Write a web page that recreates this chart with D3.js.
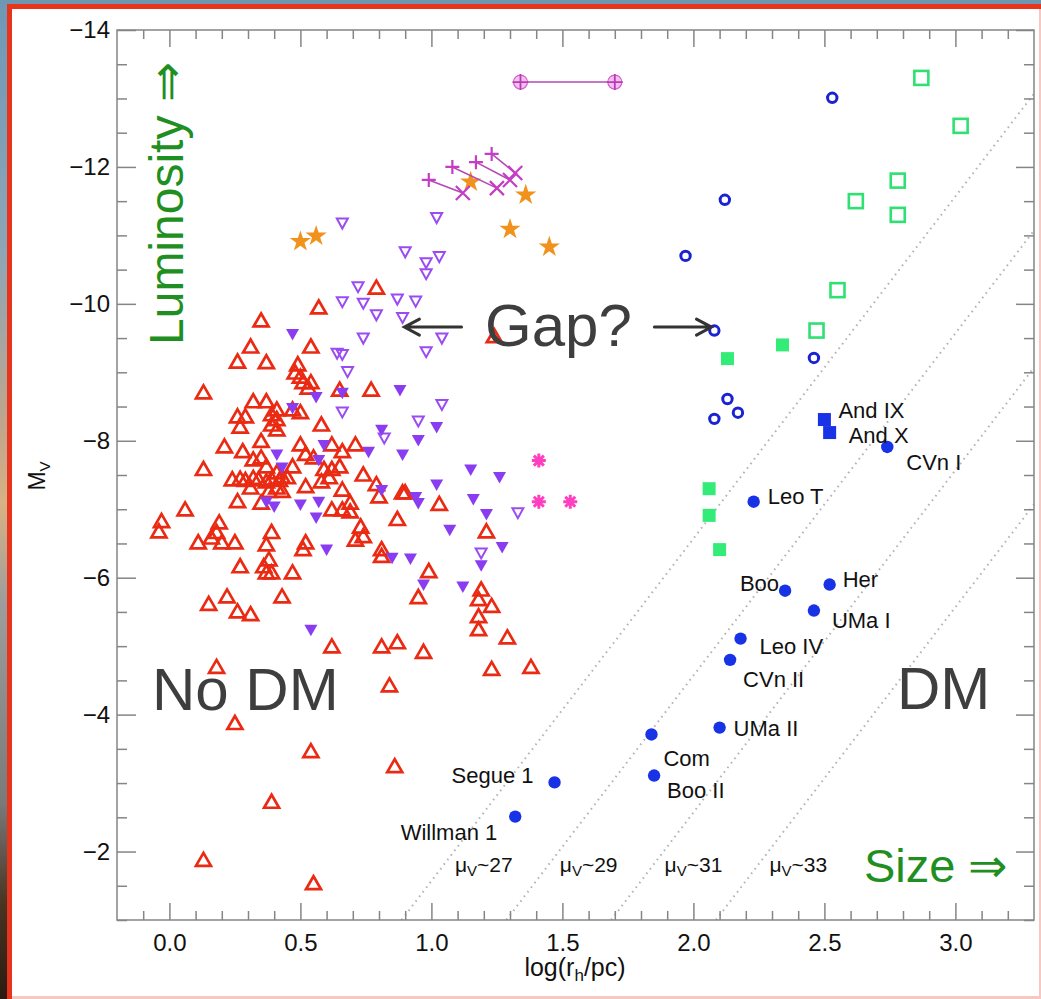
<!doctype html>
<html>
<head>
<meta charset="utf-8">
<title>Size versus luminosity: star clusters and dwarf galaxies</title>
<script src="https://d3js.org/d3.v7.min.js"></script>
<style>
  html, body { margin: 0; padding: 0; background: #6f97b2; overflow: hidden; }
  svg { display: block; }
  text { font-family: "Liberation Sans", Arial, Helvetica, sans-serif; }
</style>
</head>
<body>
<div id="vis-canvas"></div>
<script>
// ---- data: [log(r_h/pc), M_V] ----
var redTriangles = [
  [0.31,-9.37],[0.54,-9.37],[0.35,-9.75],[0.57,-9.94],[0.26,-9.15],[0.37,-9.14],[0.49,-9.11],[0.48,-8.99],
  [0.50,-8.93],[0.51,-8.85],[0.54,-8.85],[0.53,-8.77],[0.13,-8.70],[0.32,-8.57],[0.37,-8.57],[0.41,-8.45],
  [0.26,-8.35],[0.29,-8.35],[0.39,-8.38],[0.41,-8.31],[0.39,-8.23],[0.27,-8.20],[0.41,-8.16],[0.47,-8.45],
  [0.50,-8.41],[0.58,-8.23],[0.65,-8.74],[0.21,-7.91],[0.35,-7.99],[0.28,-7.84],[0.50,-7.94],[0.52,-7.80],
  [0.55,-7.75],[0.62,-7.94],[0.66,-7.84],[0.13,-7.58],[0.32,-7.72],[0.35,-7.75],[0.37,-7.62],[0.41,-7.53],
  [0.43,-7.47],[0.47,-7.62],[0.59,-7.58],[0.62,-7.58],[0.65,-7.62],
  [0.24,-7.43],[0.27,-7.44],[0.29,-7.42],[0.32,-7.45],[0.34,-7.43],[0.37,-7.40],[0.39,-7.44],[0.42,-7.42],[0.45,-7.46],
  [0.31,-7.31],[0.38,-7.26],[0.41,-7.31],[0.43,-7.26],[0.52,-7.33],[0.58,-7.40],[0.61,-7.46],[0.66,-7.28],
  [0.26,-7.11],[0.35,-7.09],[0.62,-6.99],[0.66,-6.99],[0.06,-6.99],[-0.03,-6.82],[-0.04,-6.67],[0.19,-6.80],
  [0.18,-6.66],[0.11,-6.51],[0.16,-6.58],[0.20,-6.51],[0.25,-6.51],[0.39,-6.66],[0.37,-6.48],[0.52,-6.51],
  [0.51,-6.41],[0.38,-6.26],[0.36,-6.16],[0.37,-6.07],[0.39,-6.07],[0.27,-6.16],[0.47,-6.07],[0.22,-5.72],
  [0.15,-5.61],[0.26,-5.50],[0.31,-5.46],[0.43,-5.72],[0.62,-4.99],[0.18,-4.69],[0.25,-3.87],[0.54,-3.46],
  [0.39,-2.72],[0.13,-1.87],[0.55,-1.53],
  [0.77,-8.74],[0.71,-7.94],[0.74,-7.50],[0.79,-7.36],[0.80,-7.18],[0.89,-7.24],[0.90,-7.24],[0.69,-7.09],
  [0.69,-6.96],[1.03,-7.07],[0.87,-6.85],[0.73,-6.74],[0.74,-6.60],[0.71,-6.55],[0.81,-6.41],[0.81,-6.31],
  [1.21,-6.67],[0.99,-6.09],[0.95,-5.71],[1.19,-5.82],[1.18,-5.68],[1.23,-5.58],[1.18,-5.43],[1.18,-5.24],
  [1.29,-5.12],[0.81,-4.99],[0.87,-5.05],[0.97,-4.91],[1.23,-4.66],[1.38,-4.69],[0.84,-4.42],[0.86,-3.24],
  [0.79,-10.23],[1.24,-9.52]
];
var purpleFilled = [
  [0.47,-9.56],[0.56,-8.64],[0.47,-8.48],[0.59,-7.94],[0.57,-7.72],[0.41,-7.80],[0.43,-7.61],[0.37,-7.11],
  [0.40,-7.04],[0.50,-7.07],[0.57,-7.11],[0.56,-6.88],[0.60,-6.41],[0.54,-5.24],[0.88,-8.74],[0.76,-7.84],
  [0.89,-7.80],[0.95,-8.01],[1.02,-8.20],[0.81,-8.16],[0.81,-7.28],[0.94,-7.18],[0.95,-7.09],[1.02,-7.36],
  [1.15,-7.58],[1.26,-7.47],[1.16,-7.15],[1.21,-6.93],[1.07,-6.70],[1.27,-6.45],[1.19,-6.18],[0.85,-6.29],
  [0.92,-6.28],[0.97,-5.90],[1.12,-5.87],[0.66,-8.70]
];
var purpleOpen = [
  [0.66,-11.18],[0.66,-10.03],[0.64,-9.28],[0.66,-9.26],[0.66,-8.42],[0.74,-9.50],[1.04,-9.50],[0.98,-9.30],
  [1.04,-8.53],[0.95,-8.29],[0.82,-8.04],[1.33,-6.95],[1.19,-6.36],[1.02,-11.26],[0.90,-10.76],[1.03,-10.69],
  [0.98,-10.60],[0.98,-10.44],[0.72,-10.25],[0.74,-10.01],[0.87,-10.07],[0.94,-10.04],[0.79,-9.84],[0.89,-9.80],
  [0.68,-9.01]
];
var orangeStars = [[0.50,-10.91],[0.56,-10.99],[1.15,-11.78],[1.36,-11.59],[1.30,-11.09],[1.45,-10.83]];
var plusStart = [[0.99,-11.81],[1.08,-12.00],[1.17,-12.07],[1.23,-12.19]];
var crossEnd  = [[1.12,-11.62],[1.25,-11.69],[1.30,-11.81],[1.32,-11.91]];
var omegaPair = [[1.34,-13.24],[1.70,-13.24]];
var pinkAsterisks = [[1.41,-7.71],[1.41,-7.11],[1.53,-7.11]];
var blueOpen = [[2.53,-13.01],[2.12,-11.52],[1.97,-10.70],[2.08,-9.61],[2.46,-9.21],[2.13,-8.61],[2.17,-8.41],[2.08,-8.32]];
var greenOpen = [[2.87,-13.30],[3.02,-12.60],[2.78,-11.80],[2.62,-11.50],[2.78,-11.30],[2.55,-10.20],[2.47,-9.61]];
var greenFilled = [[2.34,-9.40],[2.13,-9.20],[2.06,-7.30],[2.06,-6.91],[2.10,-6.41]];
var andNames = ["And IX", "And X"];
var andPoints = [[2.50,-8.31],[2.52,-8.12]];
var ufdNames = ["Willman 1","Segue 1","Com","Boo II","UMa II","CVn II","Leo IV","UMa I","Boo","Her","Leo T","CVn I"];
var ufdPoints = [[1.32,-2.51],[1.47,-3.01],[1.84,-3.71],[1.85,-3.11],[2.10,-3.81],[2.14,-4.80],
                 [2.18,-5.11],[2.46,-5.52],[2.35,-5.81],[2.52,-5.90],[2.23,-7.11],[2.74,-7.91]];
var muLevels = [27, 29, 31, 33];
var muLabelX = [1.09, 1.49, 1.89, 2.29];
var xMajor = [0, 0.5, 1.0, 1.5, 2.0, 2.5, 3.0];
var yMajor = [-14, -12, -10, -8, -6, -4, -2];

// label placement (pixel offsets from each point: dx, dy, anchor)
var ufdLabelPos = {
  "Willman 1": [-18, 15, "end"], "Segue 1": [-21, -7, "end"], "Com": [12, 24, "start"],
  "Boo II": [13, 14, "start"], "UMa II": [14, 0, "start"], "CVn II": [13, 19, "start"],
  "Leo IV": [19, 7, "start"], "UMa I": [18, 9, "start"], "Boo": [-6, -8, "end"],
  "Her": [13, -6, "start"], "Leo T": [14, -6, "start"], "CVn I": [19, 15, "start"]
};
var andLabelPos = { "And IX": [14, -10], "And X": [19, 2] };

var W = 1041, H = 999;
var svg = d3.select("#vis-canvas").append("svg").attr("width", W).attr("height", H);

// slide background / frame
var defs = svg.append("defs");
var grad = defs.append("linearGradient").attr("id", "photo").attr("x1", 0).attr("y1", 0).attr("x2", 0).attr("y2", 1);
[[0,"#6f98b6"],[0.25,"#8ea6b6"],[0.42,"#bfa58c"],[0.5,"#d9b184"],[0.6,"#9d9d9d"],[0.8,"#7a7a7a"],[0.9,"#4a3422"],[1,"#2a1a10"]]
  .forEach(function(s) { grad.append("stop").attr("offset", s[0]).attr("stop-color", s[1]); });
svg.append("rect").attr("width", W).attr("height", H).attr("fill", "#6f97b2");
svg.append("rect").attr("x", 0).attr("y", 4).attr("width", 8).attr("height", H).attr("fill", "url(#photo)");
svg.append("rect").attr("x", 7).attr("y", 4).attr("width", W - 7).attr("height", H - 4).attr("fill", "#e8341c");
svg.append("rect").attr("x", 12).attr("y", 9).attr("width", W - 12).attr("height", H - 9).attr("fill", "#f6c8c2");
svg.append("rect").attr("x", 12).attr("y", 9).attr("width", W - 14).attr("height", H - 12).attr("fill", "#ffffff");

// scales
var x = d3.scaleLinear().domain([-0.2, 3.3]).range([117, 1034]);
var y = d3.scaleLinear().domain([-14, -1]).range([30, 920]);

var xMinor = d3.range(-1, 33).map(function(i) { return i / 10; }).filter(function(v) { return Math.round(v * 10) % 5 !== 0; });
var yMinor = d3.range(-27, -1).map(function(i) { return i / 2; }).filter(function(v) { return v % 2 !== 0; });

var axisColor = "#858585";
function styleAxis(g) {
  g.select(".domain").remove();
  g.selectAll(".tick line").attr("stroke", axisColor).attr("stroke-width", 1.5);
  g.attr("font-size", 24).attr("font-family", "'Liberation Sans', Arial, Helvetica, sans-serif");
  g.selectAll(".tick text").attr("fill", "#111");
}

// surface brightness lines: M_V = mu - 23.57 - 5 log r
var lineGen = d3.line().x(function(d) { return x(d[0]); }).y(function(d) { return y(d[1]); });
muLevels.forEach(function(mu) {
  var c = mu - 23.57;
  var p0 = [(c + 1) / 5, -1];
  var p1 = [3.3, c - 5 * 3.3];
  if (p1[1] < -14) p1 = [(c + 14) / 5, -14];
  svg.append("path").attr("d", lineGen([p0, p1]))
    .attr("fill", "none").attr("stroke", "#b4b4b4").attr("stroke-width", 2)
    .attr("stroke-dasharray", "1.6,4.2");
});

// axes
svg.append("g").attr("transform", "translate(0,920)")
  .call(d3.axisBottom(x).tickValues(xMajor).tickSize(-17).tickPadding(14).tickFormat(d3.format(".1f"))).call(styleAxis);
svg.append("g").attr("transform", "translate(0,920)")
  .call(d3.axisBottom(x).tickValues(xMinor).tickSize(-9).tickFormat("")).call(styleAxis);
svg.append("g").attr("transform", "translate(0,30)")
  .call(d3.axisTop(x).tickValues(xMajor).tickSize(-17).tickFormat("")).call(styleAxis);
svg.append("g").attr("transform", "translate(0,30)")
  .call(d3.axisTop(x).tickValues(xMinor).tickSize(-9).tickFormat("")).call(styleAxis);
svg.append("g").attr("transform", "translate(117,0)")
  .call(d3.axisLeft(y).tickValues(yMajor).tickSize(-19).tickPadding(7).tickFormat(d3.format("d"))).call(styleAxis);
svg.append("g").attr("transform", "translate(117,0)")
  .call(d3.axisLeft(y).tickValues(yMinor).tickSize(-10).tickFormat("")).call(styleAxis);
svg.append("g").attr("transform", "translate(1034,0)")
  .call(d3.axisRight(y).tickValues(yMajor).tickSize(-18).tickFormat("")).call(styleAxis);
svg.append("g").attr("transform", "translate(1034,0)")
  .call(d3.axisRight(y).tickValues(yMinor).tickSize(-10).tickFormat("")).call(styleAxis);
svg.append("rect").attr("x", 117).attr("y", 30).attr("width", 917).attr("height", 890)
  .attr("fill", "none").attr("stroke", axisColor).attr("stroke-width", 1.5);

// axis titles
var xt = svg.append("text").attr("x", 575).attr("y", 976).attr("text-anchor", "middle").attr("font-size", 25).attr("fill", "#111");
xt.append("tspan").text("log(r");
xt.append("tspan").attr("font-size", 17).attr("dy", 5).text("h");
xt.append("tspan").attr("dy", -5).text("/pc)");
var yt = svg.append("text").attr("transform", "translate(45,476) rotate(-90)").attr("text-anchor", "middle").attr("font-size", 23).attr("fill", "#111");
yt.append("tspan").text("M");
yt.append("tspan").attr("font-size", 15).attr("dy", 5).text("V");

// markers
var plot = svg.append("g");
function px(d) { return x(d[0]); }
function py(d) { return y(d[1]); }
function tr(d) { return "translate(" + px(d) + "," + py(d) + ")"; }

plot.selectAll(".gc").data(redTriangles).enter().append("path")
  .attr("transform", tr).attr("d", "M0,-7.5L7.5,5.5L-7.5,5.5Z")
  .attr("fill", "none").attr("stroke", "#ea2a12").attr("stroke-width", 2.7).attr("stroke-linejoin", "miter");

plot.selectAll(".po").data(purpleOpen).enter().append("path")
  .attr("transform", tr).attr("d", "M-5.5,-4.5L5.5,-4.5L0,5.5Z")
  .attr("fill", "none").attr("stroke", "#9a4cf2").attr("stroke-width", 2);

plot.selectAll(".pf").data(purpleFilled).enter().append("path")
  .attr("transform", tr).attr("d", "M-6.5,-5L6.5,-5L0,6.5Z")
  .attr("fill", "#8a3cf0");

plot.selectAll(".star").data(orangeStars).enter().append("path")
  .attr("transform", tr).attr("d", d3.symbol(d3.symbolStar, 140))
  .attr("fill", "#f0921c");

// plus -> cross tracks
plot.selectAll(".track").data(plusStart).enter().append("line")
  .attr("x1", px).attr("y1", py)
  .attr("x2", function(d, i) { return x(crossEnd[i][0]); })
  .attr("y2", function(d, i) { return y(crossEnd[i][1]); })
  .attr("stroke", "#b548b5").attr("stroke-width", 1.6);
plot.selectAll(".plus").data(plusStart).enter().append("path")
  .attr("transform", tr).attr("d", "M-7,0H7M0,-7V7")
  .attr("stroke", "#c53cc5").attr("stroke-width", 2.2);
plot.selectAll(".cross").data(crossEnd).enter().append("path")
  .attr("transform", tr).attr("d", "M-7,-7L7,7M-7,7L7,-7")
  .attr("stroke", "#c53cc5").attr("stroke-width", 2.2);

// omega-type pair
plot.append("path").attr("d", lineGen(omegaPair)).attr("stroke", "#b548b5").attr("stroke-width", 1.6).attr("fill", "none");
var om = plot.selectAll(".om").data(omegaPair).enter().append("g").attr("transform", tr);
om.append("circle").attr("r", 7).attr("fill", "#f6c0ee").attr("stroke", "#d060d0").attr("stroke-width", 1.2);
om.append("path").attr("d", "M-8,0H8M0,-8V8").attr("stroke", "#b53cb5").attr("stroke-width", 1.8);

// asterisks
plot.selectAll(".ast").data(pinkAsterisks).enter().append("path")
  .attr("transform", tr).attr("d", "M-7,0H7M0,-7V7M-5,-5L5,5M-5,5L5,-5")
  .attr("stroke", "#ff3fbf").attr("stroke-width", 3);

// dwarf galaxies
plot.selectAll(".bo").data(blueOpen).enter().append("circle")
  .attr("cx", px).attr("cy", py).attr("r", 4.7)
  .attr("fill", "none").attr("stroke", "#1a22d2").attr("stroke-width", 3);
plot.selectAll(".go").data(greenOpen).enter().append("rect")
  .attr("x", function(d) { return px(d) - 7; }).attr("y", function(d) { return py(d) - 7; })
  .attr("width", 14).attr("height", 14)
  .attr("fill", "none").attr("stroke", "#2fe072").attr("stroke-width", 2.6);
plot.selectAll(".gf").data(greenFilled).enter().append("rect")
  .attr("x", function(d) { return px(d) - 6.5; }).attr("y", function(d) { return py(d) - 6.5; })
  .attr("width", 13).attr("height", 13).attr("fill", "#33ec78");
plot.selectAll(".bs").data(andPoints).enter().append("rect")
  .attr("x", function(d) { return px(d) - 6.5; }).attr("y", function(d) { return py(d) - 6.5; })
  .attr("width", 13).attr("height", 13).attr("fill", "#1832e6");
plot.selectAll(".bf").data(ufdPoints).enter().append("circle")
  .attr("cx", px).attr("cy", py).attr("r", 6.2).attr("fill", "#1832e6");

// names
plot.selectAll(".ufdlab").data(ufdPoints).enter().append("text")
  .attr("x", function(d, i) { return px(d) + ufdLabelPos[ufdNames[i]][0]; })
  .attr("y", function(d, i) { return py(d) + ufdLabelPos[ufdNames[i]][1] + 8; })
  .attr("text-anchor", function(d, i) { return ufdLabelPos[ufdNames[i]][2]; })
  .attr("font-size", 22).attr("fill", "#111")
  .text(function(d, i) { return ufdNames[i]; });
plot.selectAll(".andlab").data(andPoints).enter().append("text")
  .attr("x", function(d, i) { return px(d) + andLabelPos[andNames[i]][0]; })
  .attr("y", function(d, i) { return py(d) + andLabelPos[andNames[i]][1] + 8; })
  .attr("font-size", 22).attr("fill", "#111")
  .text(function(d, i) { return andNames[i]; });

// mu labels
muLevels.forEach(function(mu, i) {
  var t = svg.append("text").attr("x", x(muLabelX[i])).attr("y", y(-1.70)).attr("font-size", 21).attr("fill", "#111");
  t.append("tspan").text("\u03bc");
  t.append("tspan").attr("font-size", 15).attr("dy", 4).text("V");
  t.append("tspan").attr("dy", -4).text("~" + mu);
});

// big annotations
svg.append("text").attr("x", 152).attr("y", 710).attr("font-size", 60).attr("fill", "#3e3e3e").text("No DM");
svg.append("text").attr("x", 897).attr("y", 709).attr("font-size", 60).attr("fill", "#3e3e3e").text("DM");
svg.append("text").attr("x", 485).attr("y", 346).attr("font-size", 60).attr("fill", "#3e3e3e").text("Gap?");

// gap arrows (data coords)
var gapArrows = [[1.115, 0.897], [1.851, 2.069]];
var gapLevel = -9.66;
gapArrows.forEach(function(a) {
  var x0 = x(a[0]), x1 = x(a[1]), yy = y(gapLevel), d = x1 > x0 ? 1 : -1;
  svg.append("path")
    .attr("d", "M" + x0 + "," + yy + "H" + x1 + "M" + (x1 - d * 15) + "," + (yy - 8) + "L" + x1 + "," + yy + "L" + (x1 - d * 15) + "," + (yy + 8))
    .attr("fill", "none").attr("stroke", "#333").attr("stroke-width", 3).attr("stroke-linecap", "round");
});

// green direction labels
svg.append("text").attr("transform", "translate(183,345) rotate(-90)").attr("font-size", 48)
  .attr("fill", "#1f8f22").text("Luminosity \u21d2");
svg.append("text").attr("x", 864).attr("y", 882).attr("font-size", 47)
  .attr("fill", "#1f8f22").text("Size \u21d2");
</script>
</body>
</html>
